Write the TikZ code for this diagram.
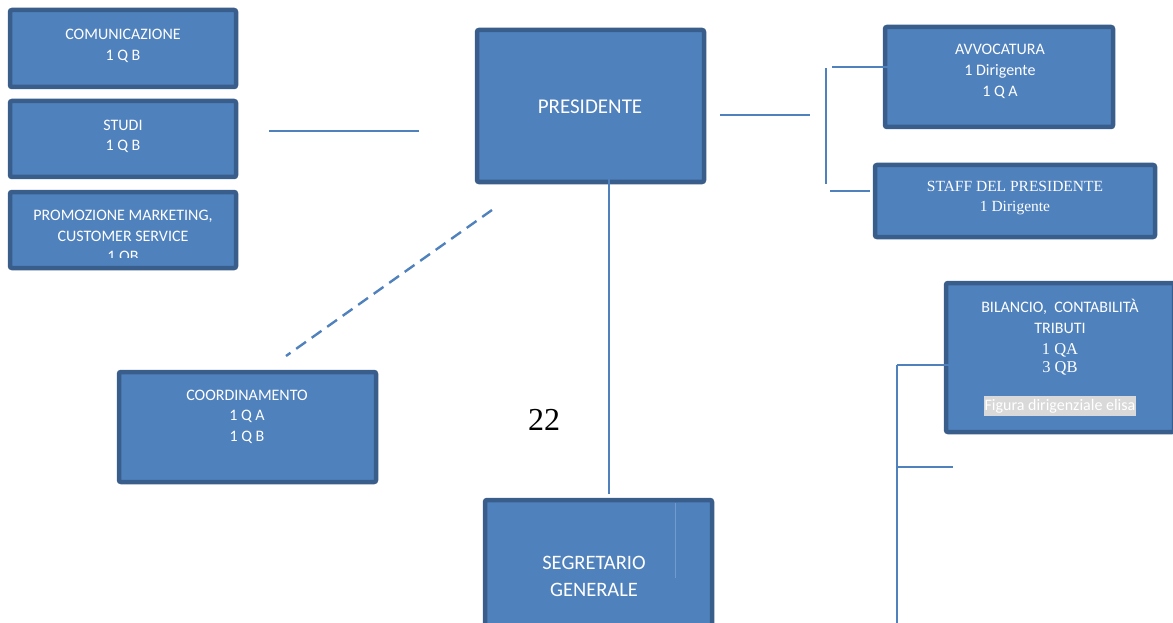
\documentclass[tikz,border=0pt]{standalone}
\usepackage{fontspec}
\setmainfont{Carlito}
\newfontfamily\serifx{Liberation Serif}
\definecolor{boxfill}{HTML}{4F81BD}
\definecolor{boxedge}{HTML}{3A5E8C}
\definecolor{linec}{HTML}{4F81BD}
\definecolor{hilite}{HTML}{D9D9D9}
\tikzset{
  orgbox/.style={draw=boxedge, fill=boxfill, line width=4.5pt, rounded corners=2pt, inner sep=0pt},
  boxtxt/.style={text=white, align=center, font=\fontsize{16}{20.5}\selectfont, inner sep=0pt, anchor=north},
  sertxt/.style={boxtxt, font=\serifx\fontsize{15.5}{20}\selectfont},
  bigtxt/.style={text=white, align=center, font=\fontsize{21}{27}\selectfont, inner sep=0pt},
  conn/.style={draw=linec, line width=1.6pt},
  dconn/.style={draw=linec, line width=2.4pt, dash pattern=on 12pt off 7pt},
  thinconn/.style={draw=linec!80, line width=0.8pt}
}
\begin{document}
\begin{tikzpicture}[x=1pt,y=-1pt]
\useasboundingbox (0,0) rectangle (1173,623);
% boxes
\node[orgbox, minimum width=226pt, minimum height=77pt] (com) at (123,48.5) {};
\node[orgbox, minimum width=226pt, minimum height=76pt] (stu) at (123,139) {};
\node[orgbox, minimum width=226pt, minimum height=76pt] (pro) at (123,230) {};
\node[orgbox, minimum width=227pt, minimum height=152pt] (pres) at (590.5,106) {};
\node[orgbox, minimum width=228pt, minimum height=100pt] (avv) at (999,77) {};
\node[orgbox, minimum width=280pt, minimum height=72pt] (staff) at (1015,201) {};
\node[orgbox, minimum width=228pt, minimum height=149pt] (bil) at (1060,357.5) {};
\node[orgbox, minimum width=257pt, minimum height=110pt] (coord) at (247.5,427) {};
\node[orgbox, minimum width=227pt, minimum height=160pt] (seg) at (598.5,580) {};

% texts
\node[boxtxt] (comt) at (123,29) {COMUNICAZIONE\\1 Q B};
\node[boxtxt] (stut) at (123,119.5) {STUDI\\1 Q B};
\begin{scope}
\clip (10,190) rectangle (236,257);
\node[boxtxt] (prot) at (123,210) {PROMOZIONE MARKETING,\\CUSTOMER SERVICE\\1 QB};
\end{scope}
\node[bigtxt] (prest) at (590,106.5) {PRESIDENTE};
\node[boxtxt, font=\fontsize{16}{21}\selectfont] (avvt) at (1000,44) {AVVOCATURA\\1 Dirigente\\1 Q A};
\node[sertxt] (stafft) at (1015,181.5) {STAFF DEL PRESIDENTE\\1 Dirigente};
\node[boxtxt, font=\fontsize{16}{21}\selectfont] (bilt1) at (1060,298.5) {BILANCIO,\ \ CONTABILIT\`A\\TRIBUTI};
\node[boxtxt, font=\serifx\fontsize{16.5}{18}\selectfont] (bilt2) at (1060,343.5) {1 QA\\3 QB};
\node[fill=hilite, text=white, font=\fontsize{16}{18}\selectfont, inner xsep=1pt, inner ysep=0pt, minimum height=20pt] (fig) at (1060,406) {Figura dirigenziale elisa};
\node[boxtxt] (coordt) at (247,389.5) {COORDINAMENTO\\1 Q A\\1 Q B};
\node[bigtxt, anchor=north, font=\fontsize{20.5}{26.7}\selectfont] (segt) at (594,556) {SEGRETARIO\\GENERALE};
\node[font=\serifx\fontsize{32}{34}\selectfont, inner sep=0pt] (n22) at (544,420) {22};

% connector coordinates
\coordinate (h1a) at (269,131); \coordinate (h1b) at (419,131);
\coordinate (pr1) at (720,115); \coordinate (pr2) at (810,115);
\coordinate (bt) at (826,68); \coordinate (bb) at (826,184);
\coordinate (ba1) at (832,67); \coordinate (ba2) at (955,67);
\coordinate (bs1) at (830,191); \coordinate (bs2) at (870,191);
\coordinate (pv1) at (609,163); \coordinate (pv2) at (609,494);
\coordinate (d1) at (492,210); \coordinate (d2) at (286,356);
\coordinate (sv1) at (675,503); \coordinate (sv2) at (675,578);
\coordinate (rv1) at (897,365); \coordinate (rv2) at (897,623);
\coordinate (rh1) at (952,365); \coordinate (rh2) at (897,467); \coordinate (rh3) at (953,467);

\draw[conn] (h1a) -- (h1b);
\draw[conn] (pr1) -- (pr2);
\draw[conn] (bt) -- (bb);
\draw[conn] (ba1) -- (ba2);
\draw[conn] (bs1) -- (bs2);
\draw[conn] (pv1) -- (pv2);
\draw[dconn] (d1) -- (d2);
\draw[thinconn] (sv1) -- (sv2);
\draw[conn] (rv1) -- (rv2);
\draw[conn] (rv1) -- (rh1);
\draw[conn] (rh2) -- (rh3);
\end{tikzpicture}
\end{document}
